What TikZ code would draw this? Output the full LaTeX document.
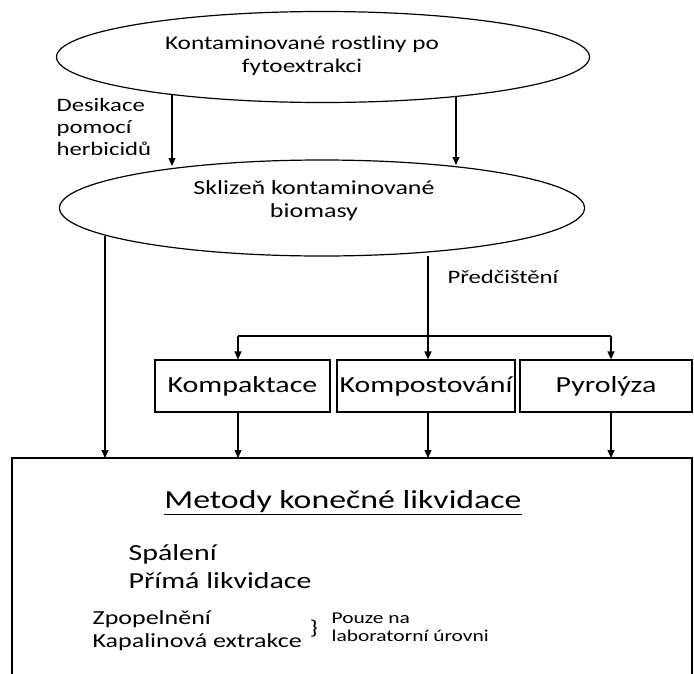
\documentclass[tikz,border=0pt]{standalone}
\usepackage{fontspec}
\setmainfont{Carlito}[FakeStretch=1.3]
\usetikzlibrary{shapes.geometric,arrows.meta}
\newcommand{\fsz}[2]{\fontsize{#1}{#2}\selectfont}
\begin{document}
\begin{tikzpicture}[x=1pt,y=-1pt,
  line width=1.2pt,
  arr/.style={-{Triangle[length=8pt,width=7pt]}},
  ell/.style={draw,ellipse,inner sep=0pt},
  boxn/.style={draw,rectangle,inner sep=0pt,minimum height=52pt,font=\fsz{23}{27}},
  lbl/.style={font=\fsz{19.4}{23},align=center,inner sep=0pt}
]
\useasboundingbox (0,0) rectangle (694,673);
% ellipses
\node[ell,minimum width=533pt,minimum height=91pt] (e1) at (323,57) {};
\node[lbl] (t1) at (302,56) {Kontaminované rostliny po\\fytoextrakci};
\node[ell,minimum width=525pt,minimum height=96pt] (e2) at (322,208) {};
\node[lbl,font=\fsz{20}{23}] (t2) at (314,201) {Sklizeň kontaminované\\biomasy};
% side labels
\node[lbl,align=left,anchor=north west,font=\fsz{19}{22}] (des) at (56,98) {Desikace\\pomocí\\herbicidů};
\node[lbl,anchor=west,font=\fsz{19}{22}] (pred) at (447,277) {Předčištění};
% boxes
\node[boxn,minimum width=175pt] (b1) at (242.5,386) {Kompaktace};
\node[boxn,minimum width=178pt] (b2) at (426,386) {Kompostování};
\node[boxn,minimum width=172pt] (b3) at (606,386) {Pyrolýza};
\draw (12,458) rectangle (692,690);
\coordinate (mt) at (12,458);
% coordinates on ellipses
\coordinate (a1) at (172,95);
\coordinate (a2) at (172,166);
\coordinate (c1) at (456,97);
\coordinate (c2) at (456,165);
\coordinate (l1) at (105,236);
\coordinate (l2) at (105,458);
\coordinate (m1) at (428,256);
\coordinate (h1) at (238,336);
\coordinate (h3) at (611,336);
\draw[arr] (a1) -- (a2);
\draw[arr] (c1) -- (c2);
\draw[arr] (l1) -- (l2);
\draw[arr] (m1) -- (m1 |- b2.north);
\draw[arr] (h1) -- (h1 |- b1.north);
\draw[arr] (h3) -- (h3 |- b3.north);
\draw (h1) -- (h3);
\draw[arr] (b1.south -| h1) -- (h1 |- mt);
\draw[arr] (b2.south -| m1) -- (m1 |- mt);
\draw[arr] (b3.south -| h3) -- (h3 |- mt);
% main box text
\node[inner sep=0pt,font=\fsz{26}{30}] (title) at (343,503) {\underline{Metody konečné likvidace}};
\node[inner sep=0pt,anchor=west,align=left,font=\fsz{23}{28}] (m) at (128,567) {Spálení\\Přímá likvidace};
\node[inner sep=0pt,anchor=west,align=left,font=\fsz{20}{23}] (z) at (92,631) {Zpopelnění\\Kapalinová extrakce};
\node[inner sep=0pt,font=\fsz{20}{20}] (br) at (314,629) {\}};
\node[inner sep=0pt,anchor=west,align=left,font=\fsz{16.5}{18}] (p) at (331,627) {Pouze na\\laboratorní úrovni};
\end{tikzpicture}
\end{document}
